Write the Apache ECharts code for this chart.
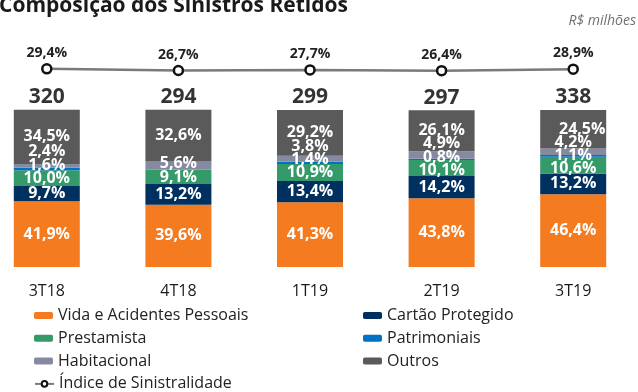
<!DOCTYPE html>
<html>
<head>
<meta charset="utf-8">
<script src="https://cdn.jsdelivr.net/npm/echarts@6/dist/echarts.min.js"></script>
<style>
  html, body { margin: 0; padding: 0; background: #fff; }
  #chart { width: 638px; height: 392px; }
</style>
</head>
<body>
<div id="chart"></div>
<script>
// Quarterly composition of retained claims (% of total), R$ millions totals
const categories = ['3T18', '4T18', '1T19', '2T19', '3T19'];
const vida = [41.9, 39.6, 41.3, 43.8, 46.4];
const cartao = [9.7, 13.2, 13.4, 14.2, 13.2];
const prestamista = [10.0, 9.1, 10.9, 10.1, 10.6];
const patrimoniais = [1.6, null, 1.4, 0.8, 1.1];
const habitacional = [2.4, 5.6, 3.8, 4.9, 4.2];
const outros = [34.5, 32.6, 29.2, 26.1, 24.5];
const totals = [320, 294, 299, 297, 338];
const indice = [29.4, 26.7, 27.7, 26.4, 28.9];

const FONT = 'Open Sans';
const BAR_TOP = 110, BAR_BOTTOM = 267;
const PX_PER_UNIT = (BAR_BOTTOM - BAR_TOP) / 100;
const MIN_LABEL_GAP = 8.4; // in stack units, keeps small-segment labels apart

const stackDefs = [
  { name: 'Vida e Acidentes Pessoais', data: vida, color: '#F47B20' },
  { name: 'Cartão Protegido', data: cartao, color: '#00305F' },
  { name: 'Prestamista', data: prestamista, color: '#359A6A' },
  { name: 'Patrimoniais', data: patrimoniais, color: '#0072C6' },
  { name: 'Habitacional', data: habitacional, color: '#868AA0' },
  { name: 'Outros', data: outros, color: '#5A5A5A' }
];
const LINE_NAME = 'Índice de Sinistralidade';

// Vertical label shifts (px) so thin segments' labels do not pile up:
// push labels upward to keep a minimum gap, then pull back down from the
// top label (kept at its own centre) as far as the gap allows.
const labelShift = stackDefs.map(() => categories.map(() => 0));
categories.forEach((c, ci) => {
  const items = [];
  let base = 0;
  stackDefs.forEach((s, si) => {
    const v = s.data[ci];
    if (v == null) return;
    items.push({ si, centre: base + v / 2 });
    base += v;
  });
  items.forEach((it, k) => {
    it.pos = k === 0 ? it.centre : Math.max(it.centre, items[k - 1].pos + MIN_LABEL_GAP);
  });
  const last = items[items.length - 1];
  last.pos = last.centre;
  for (let k = items.length - 2; k >= 0; k--) {
    items[k].pos = Math.min(items[k].pos, items[k + 1].pos - MIN_LABEL_GAP);
  }
  items.forEach(it => { labelShift[it.si][ci] = -(it.pos - it.centre) * PX_PER_UNIT; });
});
const stackTops = categories.map((c, ci) =>
  stackDefs.reduce((acc, s) => acc + (s.data[ci] || 0), 0));

const pct = v => v.toFixed(1).replace('.', ',') + '%';

const barSeries = stackDefs.map((s, si) => ({
  name: s.name,
  type: 'bar',
  stack: 'total',
  xAxisIndex: 0,
  yAxisIndex: 0,
  barWidth: 66,
  clip: false,
  itemStyle: { color: s.color },
  data: s.data.map((v, ci) => ({
    value: v,
    label: { offset: [si === 5 && ci === 4 ? 9 : 0, labelShift[si][ci]] }
  })),
  label: {
    show: true,
    position: 'inside',
    color: '#fff',
    fontFamily: FONT,
    fontWeight: 'bold',
    fontSize: 16,
    formatter: p => (p.value == null ? '' : pct(p.value))
  },
  emphasis: { disabled: true }
}));

// One single-item legend per slot: two columns, rows ~22.8px apart
const legendSlots = [
  [stackDefs[0].name, 34, 0], [stackDefs[2].name, 34, 1],
  [stackDefs[4].name, 34, 2], [LINE_NAME, 34, 3],
  [stackDefs[1].name, 363, 0], [stackDefs[3].name, 363, 1],
  [stackDefs[5].name, 363, 2]
];
const legends = legendSlots.map(([name, left, row]) => ({
  orient: 'horizontal',
  left: left,
  top: 307 + row * 22.8,
  padding: 0,
  itemWidth: 19,
  itemHeight: 7,
  data: [name],
  selectedMode: false,
  textStyle: { fontFamily: FONT, fontSize: 16, color: '#222', lineHeight: 17 }
}));

const option = {
  animation: false,
  title: {
    text: 'Composição dos Sinistros Retidos',
    left: -1,
    top: -4,
    padding: 0,
    textStyle: { fontFamily: FONT, fontSize: 21, fontWeight: 'bold', color: '#1a1a1a' }
  },
  graphic: [{
    type: 'text',
    right: 2,
    top: 14,
    style: { text: 'R$ milhões', font: 'italic 14px "' + FONT + '"', fill: '#707070' }
  }],
  legend: legends,
  grid: [
    { left: -19, width: 658, top: BAR_TOP, height: BAR_BOTTOM - BAR_TOP, outerBoundsMode: 'none' },
    { left: -19, width: 658, top: 26.5, height: 60, outerBoundsMode: 'none' }
  ],
  xAxis: [{
    type: 'category',
    gridIndex: 0,
    data: categories,
    axisLine: { show: false },
    axisTick: { show: false },
    axisLabel: { margin: 16, fontFamily: FONT, fontSize: 16, color: '#1a1a1a' }
  }, {
    type: 'category',
    gridIndex: 1,
    data: categories,
    show: false
  }],
  yAxis: [
    { type: 'value', gridIndex: 0, min: 0, max: 100, show: false, splitLine: { show: false } },
    { type: 'value', gridIndex: 1, min: 0, max: 100, show: false, splitLine: { show: false } }
  ],
  series: [
    ...barSeries,
    {
      name: 'Totais',
      type: 'scatter',
      xAxisIndex: 0,
      yAxisIndex: 0,
      symbolSize: 0,
      clip: false,
      data: stackTops,
      label: {
        show: true,
        position: 'top',
        distance: 2,
        fontFamily: FONT,
        fontWeight: 'bold',
        fontSize: 21,
        color: '#000',
        formatter: p => String(totals[p.dataIndex])
      },
      emphasis: { disabled: true },
      silent: true
    },
    {
      name: LINE_NAME,
      type: 'line',
      xAxisIndex: 1,
      yAxisIndex: 1,
      data: indice,
      symbol: 'circle',
      symbolSize: 9,
      lineStyle: { color: '#7a7a7a', width: 2.5 },
      itemStyle: { color: '#fff', borderColor: '#111', borderWidth: 2.5 },
      label: {
        show: true,
        position: 'top',
        distance: 3,
        fontFamily: FONT,
        fontWeight: 'bold',
        fontSize: 14,
        color: '#222',
        formatter: p => pct(p.value)
      },
      emphasis: { disabled: true }
    }
  ]
};

const chart = echarts.init(document.getElementById('chart'), null, { renderer: 'canvas' });
chart.setOption(option);
</script>
</body>
</html>
